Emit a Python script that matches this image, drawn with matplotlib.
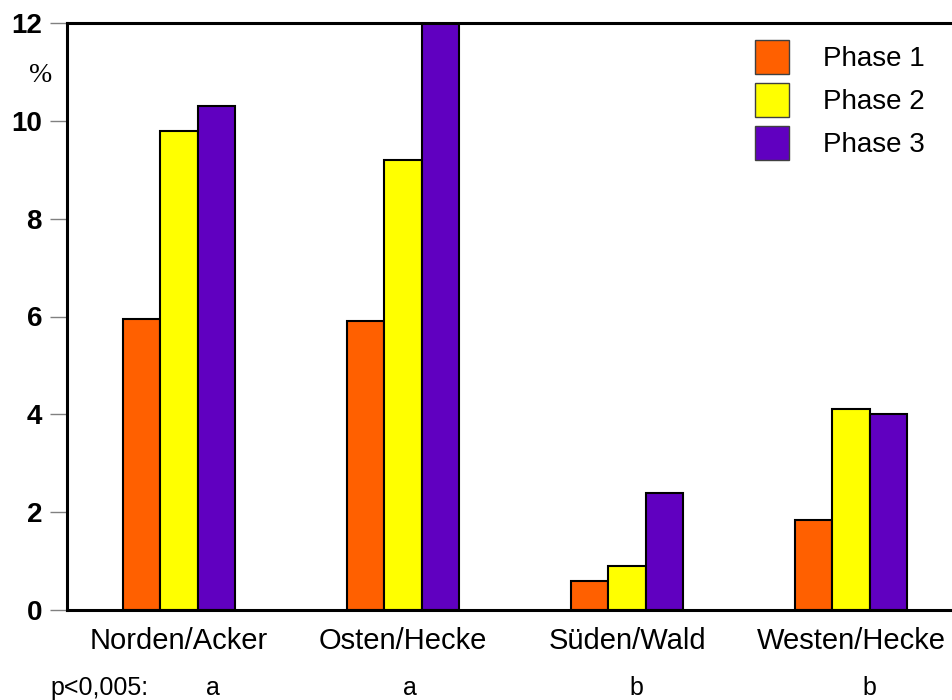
import numpy as np
import matplotlib
matplotlib.use('Agg')
import matplotlib.pyplot as plt

plt.rcParams['font.family'] = ['Liberation Sans', 'DejaVu Sans']

# Daten (Anteil in %)
standorte = ['Norden/Acker', 'Osten/Hecke', 'Süden/Wald', 'Westen/Hecke']
phase1 = [5.95, 5.9, 0.6, 1.85]
phase2 = [9.8, 9.2, 0.9, 4.1]
phase3 = [10.3, 12.0, 2.4, 4.0]
phasen = ['Phase 1', 'Phase 2', 'Phase 3']
farben = ['#FF6000', '#FFFF00', '#6000C0']
signif = ['a', 'a', 'b', 'b']
signif_x = [0.15, 1.03, 2.04, 3.08]

fig = plt.figure(figsize=(9.52, 7), dpi=100)
ax = fig.add_axes([67/952, 1 - 610/700, 1 - 67/952, (610 - 23)/700])

x = np.arange(len(standorte))
w = 0.167
for i, (werte, name, farbe) in enumerate(zip([phase1, phase2, phase3], phasen, farben)):
    ax.bar(x + (i - 1) * w, werte, width=w, color=farbe, edgecolor='black',
           linewidth=1.5, label=name)

ax.set_xlim(-0.5, 3.45)
ax.set_ylim(0, 12)
ax.set_yticks([0, 2, 4, 6, 8, 10, 12])
ax.set_yticklabels(['0', '2', '4', '6', '8', '10', '12'], fontsize=20, fontweight='bold')
ax.tick_params(axis='y', direction='out', length=12, width=1, color='gray', pad=6)
ax.set_xticks(x)
ax.set_xticklabels(standorte, fontsize=21)
ax.tick_params(axis='x', length=0, pad=12)

for s in ['left', 'top', 'bottom']:
    ax.spines[s].set_linewidth(2.2)
ax.spines['right'].set_visible(False)

fig.text(41/952, 1 - 75/700, '%', fontsize=20, family='Liberation Serif',
         ha='center', va='center')

# Signifikanz
fig.text(50/952, 1 - 688/700, 'p<0,005:', fontsize=18, ha='left', va='center')
for xs, s in zip(signif_x, signif):
    ax.text(xs, -0.133, s, transform=ax.get_xaxis_transform(), fontsize=18,
            ha='center', va='center')

leg = ax.legend(loc='upper left', bbox_to_anchor=(755/952, 1 - 40/700),
                bbox_transform=fig.transFigure, frameon=False, fontsize=20,
                handlelength=1.224, handleheight=1.507, handletextpad=1.224,
                labelspacing=0.325, borderpad=0, borderaxespad=0)
for h in leg.legend_handles:
    h.set_edgecolor('#404040')
    h.set_linewidth(1)

fig.savefig('out.png', dpi=100)
